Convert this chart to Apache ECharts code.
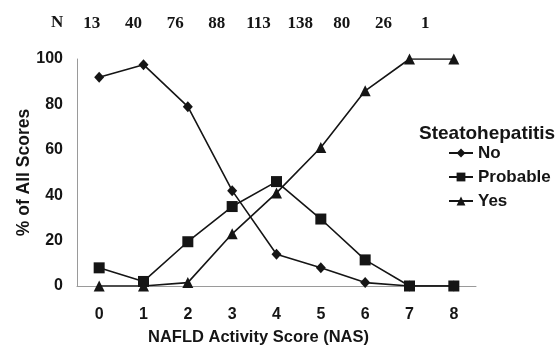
<!DOCTYPE html>
<html><head><meta charset="utf-8">
<script src="https://cdn.jsdelivr.net/npm/echarts@6/dist/echarts.min.js"></script>
<style>html,body{margin:0;padding:0;background:#fff}#c{width:559px;height:345px}</style>
</head><body><div id="c"></div>
<script>
const scores = ['0','1','2','3','4','5','6','7','8'];
const nCounts = ['13','40','76','88','113','138','80','26','1'];
const noVals = [92, 97.5, 79, 42, 14, 8, 1.5, 0, 0];
const probableVals = [8, 2, 19.5, 35, 46, 29.5, 11.5, 0, 0];
const yesVals = [0, 0, 1.5, 23, 41, 61, 86, 100, 100];

const ink = '#151515';
const sans = 'Liberation Sans';
const chart = echarts.init(document.getElementById('c'), null, {renderer: 'canvas'});
chart.setOption({
  animation: false,
  backgroundColor: '#fff',
  title: {
    text: 'Steatohepatitis', left: 414, top: 119,
    textStyle: {fontFamily: sans, fontSize: 19, fontWeight: 'bold', color: ink}
  },
  graphic: [{
    type: 'text', left: 51, top: 14,
    style: {text: 'N', font: 'bold 17px "Liberation Serif"', fill: ink}
  }],
  legend: {
    orient: 'vertical', left: 443, top: 139,
    itemWidth: 24, itemHeight: 11, itemGap: 6,
    data: ['No', 'Probable', 'Yes'],
    textStyle: {fontFamily: sans, fontSize: 17, fontWeight: 'bold', color: ink, lineHeight: 18}
  },
  grid: [
    {left: 77, right: 83, top: 59, bottom: 59, containLabel: false, outerBoundsMode: 'none'},
    {left: 71, width: 375, top: 59, bottom: 59, containLabel: false, outerBoundsMode: 'none'}
  ],
  xAxis: [{
    type: 'category', data: scores, boundaryGap: true, gridIndex: 0,
    axisLine: {lineStyle: {color: '#9a9a9a', width: 1}},
    axisTick: {show: false},
    axisLabel: {margin: 21, fontFamily: sans, fontSize: 16, fontWeight: 'bold', color: ink},
    name: 'NAFLD Activity Score (NAS)', nameLocation: 'middle', nameGap: 43, nameMoveOverlap: false,
    nameTextStyle: {fontFamily: sans, fontSize: 16.5, fontWeight: 'bold', color: ink, padding: [0, 36, 0, 0]}
  }, {
    type: 'category', data: nCounts, boundaryGap: true, gridIndex: 1, position: 'top',
    axisLine: {show: false}, axisTick: {show: false},
    axisLabel: {margin: 27, fontFamily: 'Liberation Serif', fontSize: 17, fontWeight: 'bold', color: ink}
  }],
  yAxis: [{
    type: 'value', min: 0, max: 100, interval: 20, gridIndex: 0,
    axisLine: {show: true, lineStyle: {color: '#9a9a9a', width: 1}},
    axisTick: {show: false}, splitLine: {show: false},
    axisLabel: {margin: 14, fontFamily: sans, fontSize: 16, fontWeight: 'bold', color: ink},
    name: '% of All Scores', nameLocation: 'middle', nameGap: 44, nameMoveOverlap: false,
    nameTextStyle: {fontFamily: sans, fontSize: 17.5, fontWeight: 'bold', color: ink}
  }, {
    type: 'value', gridIndex: 1, show: false
  }],
  series: [
    {name: 'No', type: 'line', data: noVals, symbol: 'diamond', symbolSize: [10, 11],
     lineStyle: {color: ink, width: 1.6}, itemStyle: {color: ink}},
    {name: 'Probable', type: 'line', data: probableVals, symbol: 'rect', symbolSize: 11,
     lineStyle: {color: ink, width: 1.6}, itemStyle: {color: ink}},
    {name: 'Yes', type: 'line', data: yesVals, symbol: 'triangle', symbolSize: 11,
     lineStyle: {color: ink, width: 1.6}, itemStyle: {color: ink}}
  ]
});
</script></body></html>
